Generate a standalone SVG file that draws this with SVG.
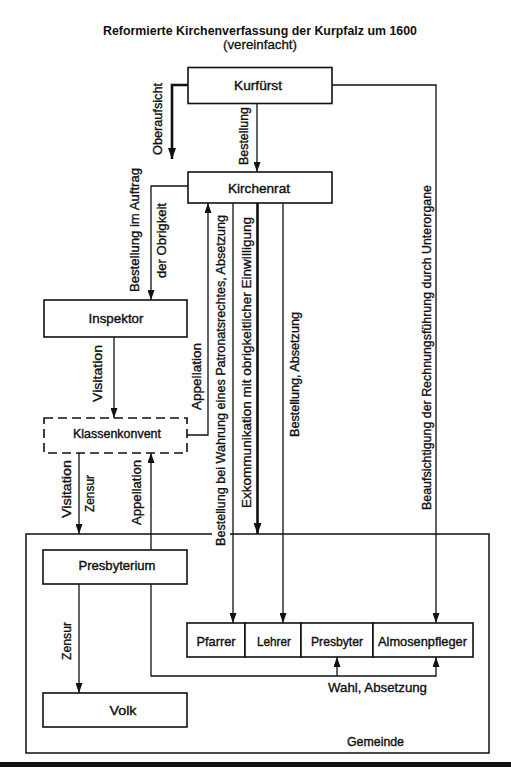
<svg xmlns="http://www.w3.org/2000/svg" width="511" height="768" viewBox="0 0 511 768">
<style>
text{font-family:"Liberation Sans",Arial,sans-serif;fill:#111;}
.t{font-size:12.8px;font-weight:bold;text-anchor:middle;}
.st{font-size:13px;text-anchor:middle;stroke:#111;stroke-width:0.3;}
.bl{font-size:13.5px;text-anchor:middle;stroke:#111;stroke-width:0.4;}
.el{font-size:13px;text-anchor:middle;stroke:#111;stroke-width:0.35;}
.box{fill:#fff;stroke:#111;stroke-width:1.6;}
.dash{fill:#fff;stroke:#111;stroke-width:1.6;stroke-dasharray:9,5;}
.c{fill:none;stroke:#111;stroke-width:1.3;}
.thick{fill:none;stroke:#111;stroke-width:2.6;}
</style>
<defs>
<marker id="a" markerUnits="userSpaceOnUse" markerWidth="10" markerHeight="7" refX="10" refY="3.5" orient="auto" viewBox="0 0 10 7">
<path d="M0,0 L10,3.5 L0,7 z" fill="#111"/>
</marker>
<marker id="ab" markerUnits="userSpaceOnUse" markerWidth="11" markerHeight="8" refX="11" refY="4" orient="auto" viewBox="0 0 11 8">
<path d="M0,0 L11,4 L0,8 z" fill="#111"/>
</marker>
</defs>
<rect width="511" height="768" fill="#fff"/>
<g id="title">
<text class="t" x="260" y="35" textLength="314" lengthAdjust="spacingAndGlyphs">Reformierte Kirchenverfassung der Kurpfalz um 1600</text>
<text class="st" x="260" y="49" textLength="74" lengthAdjust="spacingAndGlyphs">(vereinfacht)</text>
</g>
<g id="gemeinde">
<path class="c" style="stroke-width:1.5" d="M230,534 H489 V753 H26 V534 H212"/>
<text class="bl" x="375.5" y="746" textLength="57" lengthAdjust="spacingAndGlyphs">Gemeinde</text>
</g>
<g id="connectors">
<path class="thick" d="M188,85 H172 V159" marker-end="url(#ab)"/>
<path class="c" d="M257,104 V172" marker-end="url(#a)"/>
<path class="c" d="M332,85 H436 V623" marker-end="url(#a)"/>
<path class="c" d="M188,186 H151 V300" marker-end="url(#a)"/>
<path class="c" d="M233,203 V623" marker-end="url(#a)"/>
<path class="thick" d="M257.5,203 V534" marker-end="url(#ab)"/>
<path class="c" d="M283,203 V623" marker-end="url(#a)"/>
<path class="c" d="M114,337 V418" marker-end="url(#a)"/>
<path class="c" d="M187,435 H208 V203" marker-end="url(#a)"/>
<path class="c" d="M79,453 V534" marker-end="url(#a)"/>
<path class="c" d="M151,550 V453" marker-end="url(#a)"/>
<path class="c" d="M79,584 V693" marker-end="url(#a)"/>
<path class="c" d="M151,584 V676 H436 V657" marker-end="url(#a)"/>
<path class="c" d="M337,676 V657" marker-end="url(#a)"/>
<g id="edge-labels">
<text class="el" transform="translate(162,119) rotate(-90)" textLength="72" lengthAdjust="spacingAndGlyphs">Oberaufsicht</text>
<text class="el" transform="translate(248,136) rotate(-90)" textLength="58" lengthAdjust="spacingAndGlyphs">Bestellung</text>
<text class="el" transform="translate(139,230) rotate(-90)" textLength="124" lengthAdjust="spacingAndGlyphs">Bestellung im Auftrag</text>
<text class="el" transform="translate(166,240.5) rotate(-90)" textLength="75" lengthAdjust="spacingAndGlyphs">der Obrigkeit</text>
<text class="el" transform="translate(102,373.5) rotate(-90)" textLength="57" lengthAdjust="spacingAndGlyphs">Visitation</text>
<text class="el" transform="translate(201,376.5) rotate(-90)" textLength="67" lengthAdjust="spacingAndGlyphs">Appellation</text>
<text class="el" transform="translate(225,380.5) rotate(-90)" textLength="331" lengthAdjust="spacingAndGlyphs">Bestellung bei Wahrung eines Patronatsrechtes, Absetzung</text>
<text class="el" transform="translate(251,362.5) rotate(-90)" textLength="291" lengthAdjust="spacingAndGlyphs">Exkommunikation mit obrigkeitlicher Einwilligung</text>
<text class="el" transform="translate(299,374.5) rotate(-90)" textLength="125" lengthAdjust="spacingAndGlyphs">Bestellung, Absetzung</text>
<text class="el" transform="translate(431,347.5) rotate(-90)" textLength="325" lengthAdjust="spacingAndGlyphs">Beaufsichtigung der Rechnungsführung durch Unterorgane</text>
<text class="el" transform="translate(71,489) rotate(-90)" textLength="58" lengthAdjust="spacingAndGlyphs">Visitation</text>
<text class="el" transform="translate(94,493.5) rotate(-90)" textLength="37" lengthAdjust="spacingAndGlyphs">Zensur</text>
<text class="el" transform="translate(141,492.5) rotate(-90)" textLength="65" lengthAdjust="spacingAndGlyphs">Appellation</text>
<text class="el" transform="translate(71,641) rotate(-90)" textLength="38" lengthAdjust="spacingAndGlyphs">Zensur</text>
<text class="el" x="377.5" y="692" textLength="99" lengthAdjust="spacingAndGlyphs">Wahl, Absetzung</text>
</g>
</g>
<g id="kurfuerst">
<rect class="box" x="188" y="67.5" width="144" height="36"/>
<text class="bl" x="258" y="89.5" textLength="48" lengthAdjust="spacingAndGlyphs">Kurfürst</text>
</g>
<g id="kirchenrat">
<rect class="box" x="188" y="172" width="144" height="31"/>
<text class="bl" x="259" y="192.5" textLength="62" lengthAdjust="spacingAndGlyphs">Kirchenrat</text>
</g>
<g id="inspektor">
<rect class="box" x="44" y="300" width="143" height="37"/>
<text class="bl" x="116" y="322.5" textLength="55" lengthAdjust="spacingAndGlyphs">Inspektor</text>
</g>
<g id="klassenkonvent">
<rect class="dash" x="44" y="418" width="143" height="35"/>
<text class="bl" x="117" y="437.5" textLength="88" lengthAdjust="spacingAndGlyphs">Klassenkonvent</text>
</g>
<g id="presbyterium">
<rect class="box" x="43" y="550" width="144" height="34"/>
<text class="bl" x="117" y="569.5" textLength="77" lengthAdjust="spacingAndGlyphs">Presbyterium</text>
</g>
<g id="volk">
<rect class="box" x="43" y="693" width="144" height="34"/>
<text class="bl" x="123" y="714.5" textLength="27" lengthAdjust="spacingAndGlyphs">Volk</text>
</g>
<g id="pfarrer">
<rect class="box" x="187" y="623" width="58" height="34"/>
<text class="bl" x="216" y="645.5" textLength="39" lengthAdjust="spacingAndGlyphs">Pfarrer</text>
</g>
<g id="lehrer">
<rect class="box" x="245" y="623" width="56" height="34"/>
<text class="bl" x="274" y="645.5" textLength="34" lengthAdjust="spacingAndGlyphs">Lehrer</text>
</g>
<g id="presbyter">
<rect class="box" x="301" y="623" width="72" height="34"/>
<text class="bl" x="337" y="645.5" textLength="52" lengthAdjust="spacingAndGlyphs">Presbyter</text>
</g>
<g id="almosenpfleger">
<rect class="box" x="373" y="623" width="100" height="34"/>
<text class="bl" x="422.5" y="645.5" textLength="89" lengthAdjust="spacingAndGlyphs">Almosenpfleger</text>
</g>
<rect x="0" y="762" width="511" height="5" fill="#111"/>
</svg>
